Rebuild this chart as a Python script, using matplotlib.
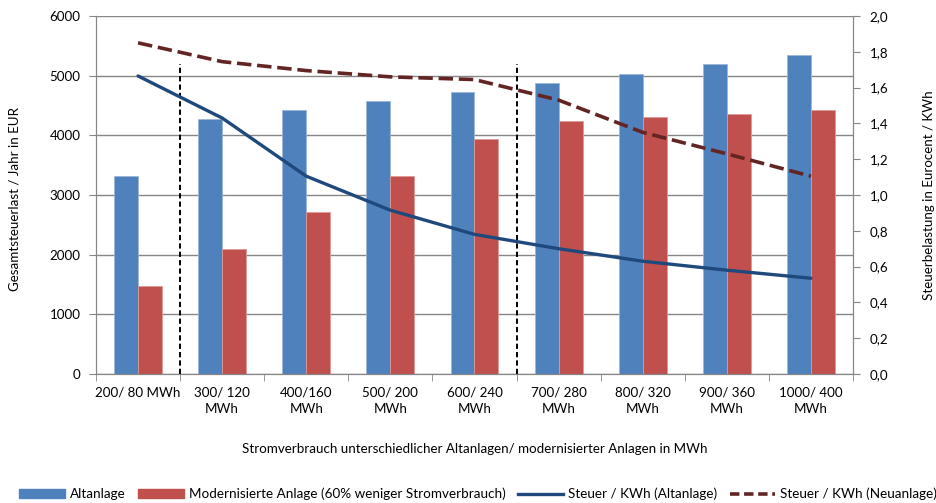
import matplotlib.pyplot as plt
from matplotlib.ticker import FuncFormatter, MultipleLocator
from matplotlib.patches import Patch
from matplotlib.lines import Line2D
import numpy as np

plt.rcParams['font.family'] = ['Lato', 'DejaVu Sans']
plt.rcParams['font.size'] = 9.6

#---------- data ----------#
labels = ["200/ 80 MWh", "300/ 120\nMWh", "400/160\nMWh", "500/ 200\nMWh", "600/ 240\nMWh",
          "700/ 280\nMWh", "800/ 320\nMWh", "900/ 360\nMWh", "1000/ 400\nMWh"]
altanlage = [3320, 4270, 4420, 4570, 4730, 4880, 5030, 5190, 5340]
modernisiert = [1470, 2100, 2710, 3320, 3940, 4240, 4300, 4360, 4420]
steuer_alt = [1.665, 1.43, 1.105, 0.915, 0.78, 0.70, 0.63, 0.58, 0.535]
steuer_neu = [1.85, 1.745, 1.695, 1.66, 1.645, 1.53, 1.35, 1.23, 1.105]
trennlinien = [0.5, 4.5]   # group separators
trenn_hoehe = 5200

blue = '#4F81BD'
red = '#C0504D'
navy = '#1F497D'
maroon = '#632523'
grid = '#868686'

fig = plt.figure(figsize=(9.36, 5.03), dpi=100)
ax = fig.add_axes([96/936, 1-374/503, (853-96)/936, (374-16)/503])
ax2 = ax.twinx()

x = np.arange(len(labels))
w = 0.285

#---------- bars (left axis) ----------#
ax.bar(x - w/2, altanlage, w, color=blue, edgecolor='#9CB6D9', linewidth=0.6, zorder=2)
ax.bar(x + w/2, modernisiert, w, color=red, edgecolor='#DB9A98', linewidth=0.6, zorder=2)
for xv in trennlinien:
    ax.plot([xv, xv], [0, trenn_hoehe], color='black', linewidth=1.4,
            dashes=(2.7, 1.6), zorder=3)

ax.set_xlim(-0.5, len(labels) - 0.5)
ax.set_ylim(0, 6000)
ax.yaxis.set_major_locator(MultipleLocator(1000))
ax.grid(axis='y', color=grid, linewidth=1.0)
ax.set_axisbelow(True)

ax.set_xticks(x)
ax.set_xticklabels(labels, linespacing=1.45)
ax.set_xticks(np.arange(-0.5, len(labels)), minor=True)
ax.tick_params(axis='x', which='major', length=0, pad=9)
ax.tick_params(axis='x', which='minor', length=5, color=grid)
ax.tick_params(axis='y', length=5, color=grid, pad=6)
ax.set_ylabel("Gesamtsteuerlast / Jahr in EUR")
ax.yaxis.set_label_coords(-0.1, 0.49)
ax.set_xlabel("Stromverbrauch unterschiedlicher Altanlagen/ modernisierter Anlagen in MWh")
ax.xaxis.set_label_coords(0.5, -0.193)

#---------- lines (right axis) ----------#
ax2.plot(x, steuer_alt, color=navy, linewidth=2.4, solid_capstyle='round', zorder=4)
ax2.plot(x, steuer_neu, color=maroon, linewidth=2.6, dashes=(4, 1.6), zorder=4)
ax2.set_ylim(0, 2.0)
ax2.yaxis.set_major_locator(MultipleLocator(0.2))
ax2.yaxis.set_major_formatter(FuncFormatter(lambda v, p: f"{v:.1f}".replace('.', ',')))
ax2.tick_params(axis='y', length=5, color=grid, pad=7)
ax2.set_ylabel("Steuerbelastung in Eurocent / KWh")
ax2.yaxis.set_label_coords(1.092, 0.5)

for a in (ax, ax2):
    for side in ('left', 'right', 'bottom'):
        a.spines[side].set_color(grid)
    a.spines['top'].set_visible(False)

#---------- legend ----------#
handles = [Patch(facecolor=blue, edgecolor=blue),
           Patch(facecolor=red, edgecolor=red),
           Line2D([], [], color=navy, linewidth=2.4),
           Line2D([], [], color=maroon, linewidth=2.6, dashes=(2.6, 1.3))]
names = ["Altanlage", "Modernisierte Anlage (60% weniger Stromverbrauch)",
         "Steuer / KWh (Altanlage)", "Steuer / KWh (Neuanlage)"]
fig.legend(handles, names, loc='center', bbox_to_anchor=(0.511, 0.018), ncol=4,
           frameon=False, fontsize=9.7, handlelength=3.4, handleheight=0.7,
           handletextpad=0.37, columnspacing=0.9)

fig.savefig("out.png", dpi=100)
